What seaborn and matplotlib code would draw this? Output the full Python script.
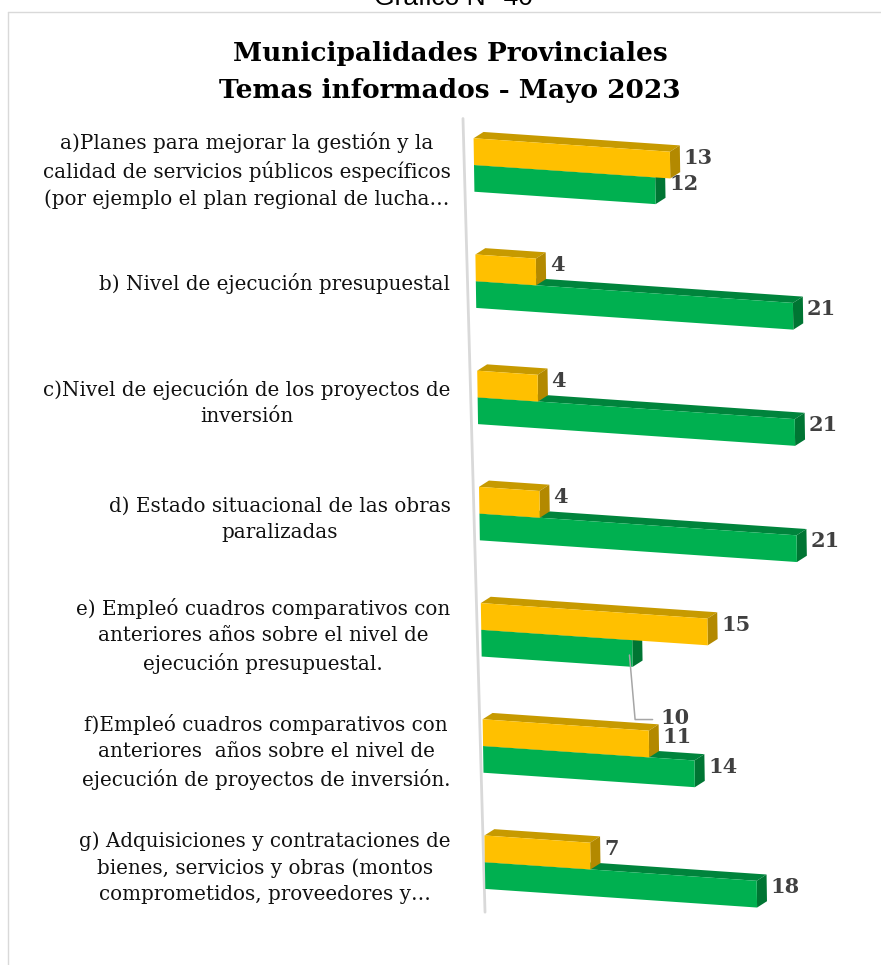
import numpy as np
import pandas as pd
import matplotlib
matplotlib.use("Agg")
import matplotlib.pyplot as plt
from matplotlib.patches import Polygon
from matplotlib.transforms import Affine2D
from matplotlib.lines import Line2D
import seaborn as sns

# ---- datos ----
temas = [
    "a)Planes para mejorar la gestión y la\ncalidad de servicios públicos específicos\n(por ejemplo el plan regional de lucha…",
    "b) Nivel de ejecución presupuestal",
    "c)Nivel de ejecución de los proyectos de\ninversión",
    "d) Estado situacional de las obras\nparalizadas",
    "e) Empleó cuadros comparativos con\nanteriores años sobre el nivel de\nejecución presupuestal.",
    "f)Empleó cuadros comparativos con\nanteriores  años sobre el nivel de\nejecución de proyectos de inversión.",
    "g) Adquisiciones y contrataciones de\nbienes, servicios y obras (montos\ncomprometidos, proveedores y…",
]
serie_amarilla = [13, 4, 4, 4, 15, 11, 7]
serie_verde = [12, 21, 21, 21, 10, 14, 18]
series = ["Serie 1", "Serie 2"]

titulo = "Municipalidades Provinciales\nTemas informados - Mayo 2023"
encabezado = "Gráfico N° 40"

# ---- estilo ----
amarillo, amarillo_top, amarillo_lado = "#FFC000", "#C79A00", "#B38900"
verde, verde_top, verde_lado = "#00B050", "#00843C", "#007533"
gris_texto = "#404040"

sns.set_theme(style="white")
plt.rcParams["font.family"] = ["DejaVu Serif"]

df = pd.DataFrame({
    "tema": temas * 2,
    "valor": serie_amarilla + serie_verde,
    "serie": [series[0]] * len(temas) + [series[1]] * len(temas),
})

W, H = 881, 965
fig = plt.figure(figsize=(W / 100, H / 100), dpi=100)

PX_UNIT = 15.1          # pixels per value unit
left_px, right_px = 474, 872
cat_px, y0_px = 116.2, 165
top_lim, bot_lim = -0.8, 6.8
ax_top_px = y0_px + top_lim * cat_px
ax_bot_px = y0_px + bot_lim * cat_px
ax = fig.add_axes([left_px / W, 1 - ax_bot_px / H,
                   (right_px - left_px) / W, (ax_bot_px - ax_top_px) / H])

sns.barplot(data=df, y="tema", x="valor", hue="serie", order=temas,
            hue_order=series, palette=[amarillo, verde], orient="h",
            width=0.46, dodge=True, ax=ax, legend=False, saturation=1,
            linewidth=0, edgecolor="none")
ax.set_xlim(0, (right_px - left_px) / PX_UNIT)
ax.set_ylim(bot_lim, top_lim)

# oblique projection giving the bars their receding slant
m_skew, k_skew = 0.12, 0.0089
skew = Affine2D(np.array([[1, m_skew, 0], [k_skew, 1, 0], [0, 0, 1]], dtype=float))
tr = skew + ax.transData

dx, dy = 10 / PX_UNIT, 7 / cat_px   # depth of the 3D faces

bars = list(ax.patches)
for bar in bars:
    x0, yb, w, h = bar.get_x(), bar.get_y(), bar.get_width(), bar.get_height()
    ytop, ybot = min(yb, yb + h), max(yb, yb + h)
    x1 = x0 + w
    fc = matplotlib.colors.to_hex(bar.get_facecolor())
    is_yel = fc.lower() == amarillo.lower()
    z = 3 if is_yel else 2
    c_top = amarillo_top if is_yel else verde_top
    c_side = amarillo_lado if is_yel else verde_lado
    bar.set_transform(tr)
    bar.set_zorder(z + 0.2)
    bar.set_clip_on(False)
    top = Polygon([(x0, ytop), (x1, ytop), (x1 + dx, ytop - dy), (x0 + dx, ytop - dy)],
                  closed=True, fc=c_top, ec="none", transform=tr, zorder=z, clip_on=False)
    side = Polygon([(x1, ytop), (x1, ybot), (x1 + dx, ybot - dy), (x1 + dx, ytop - dy)],
                   closed=True, fc=c_side, ec="none", transform=tr, zorder=z + 0.1, clip_on=False)
    ax.add_patch(top)
    ax.add_patch(side)

    # value label
    yc = (ytop + ybot) / 2 - 0.07
    cat = int(round((ytop + ybot) / 2))
    txt = f"{w:g}"
    if (not is_yel) and cat == 4:
        ax.annotate(txt, xy=(x1 - 0.2, ybot - 0.1), xycoords=tr,
                    xytext=(22, -45), textcoords="offset points",
                    ha="left", va="center", fontsize=15, fontweight="bold",
                    color=gris_texto, zorder=6,
                    arrowprops=dict(arrowstyle="-", color="#A6A6A6", lw=1.1,
                                    shrinkA=3, shrinkB=0, relpos=(0, 0.4),
                                    connectionstyle="angle,angleA=0,angleB=-85,rad=0"))
    else:
        ax.text(x1 + dx + 0.25, yc, txt, transform=tr, ha="left", va="center",
                fontsize=15, fontweight="bold", color=gris_texto, zorder=6,
                clip_on=False)

# vertical wall line
ax.add_line(Line2D([-0.73, 0.73], [-0.40, 6.43], color="#D9D9D9", lw=2,
                   transform=ax.transData, clip_on=False, zorder=1))

ax.set_xticks([])
ax.set_xlabel("")
ax.set_ylabel("")
for s in ax.spines.values():
    s.set_visible(False)
ax.tick_params(axis="y", length=0, pad=17)
for lbl in ax.get_yticklabels():
    lbl.set_multialignment("center")
    lbl.set_fontsize(14.3)
    lbl.set_linespacing(1.47)
    lbl.set_color("#111111")
ax.patch.set_alpha(0)

fig.text(450 / W, 1 - 72 / H, titulo, ha="center", va="center", fontsize=19,
         fontweight="bold", linespacing=1.58, color="#000000")
fig.text(453 / W, 1 - 5 / H, encabezado, ha="center", va="baseline",
         fontsize=19, family="Liberation Sans", color="#000000")

# outer frame
fig.add_artist(Line2D([8 / W, 8 / W], [0, 1 - 12 / H], color="#D9D9D9", lw=1,
                      transform=fig.transFigure))
fig.add_artist(Line2D([8 / W, 1], [1 - 12 / H, 1 - 12 / H], color="#D9D9D9", lw=1,
                      transform=fig.transFigure))

fig.savefig("out.png", dpi=100, facecolor="white")
